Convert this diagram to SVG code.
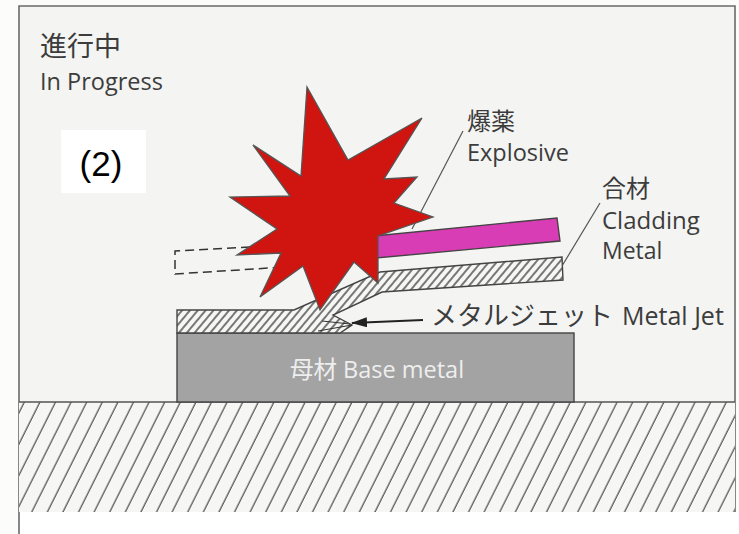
<svg xmlns="http://www.w3.org/2000/svg" width="739" height="534" viewBox="0 0 739 534">
  <defs>
    <style>
      .lbl { font-family: "Open Sans", "Noto Sans CJK JP", sans-serif; fill: #3c3c3c; }
      .outline { stroke: #444; stroke-width: 1.4; }
      .lead { stroke: #555; stroke-width: 1.2; fill: none; }
    </style>
    <!-- fine section hatching for the metal plates -->
    <pattern id="plateHatch" patternUnits="userSpaceOnUse" width="6" height="10" patternTransform="rotate(40)">
      <rect width="6" height="10" fill="#f6f6f4"/>
      <line x1="3" y1="0" x2="3" y2="10" stroke="#333" stroke-width="1.3"/>
    </pattern>
    <!-- coarse hatching for the ground -->
    <pattern id="groundHatch" patternUnits="userSpaceOnUse" width="15.6" height="10" patternTransform="skewX(-26.57)">
      <rect width="15.6" height="10" fill="#f6f6f4"/>
      <line x1="7" y1="0" x2="7" y2="10" stroke="#3a3a3a" stroke-width="1.2"/>
    </pattern>
    <marker id="arrowHead" viewBox="0 0 16 10" refX="15" refY="5" markerWidth="16" markerHeight="10" markerUnits="userSpaceOnUse" orient="auto">
      <path d="M0,0 L16,5 L0,10 Z" fill="#222"/>
    </marker>
  </defs>

  <!-- page -->
  <rect width="739" height="534" fill="#fcfcfb"/>
  <rect x="19" y="6" width="716" height="506" fill="#f4f4f2"/>
  <rect x="19" y="512" width="720" height="22" fill="#ffffff"/>
  <path d="M19,534 L19,6 L735,6 L735,512" fill="none" stroke="#6a6a6a" stroke-width="1.6"/>

  <!-- ground -->
  <g id="ground">
    <rect x="19" y="402" width="716" height="110" fill="url(#groundHatch)"/>
    <line x1="19" y1="402" x2="735" y2="402" stroke="#555" stroke-width="1.4"/>
  </g>

  <!-- base metal -->
  <g id="base-metal">
    <rect x="177" y="333" width="397" height="69" fill="#a3a3a3" class="outline"/>
    <text x="377" y="378" text-anchor="middle" class="lbl" style="fill:#eeeeee" font-size="23.5">母材 Base metal</text>
  </g>

  <!-- cladding metal: bonded part, bend, and flying part -->
  <g id="cladding-plate">
    <path d="M177,310 L294,310 L380,272 L562,257 L563,280 L382,292 L333,315 L352,325 L340,333 L177,333 Z" fill="url(#plateHatch)" class="outline"/>
    <path d="M318,331 L352,325 M322,321 L350,324" fill="none" stroke="#333" stroke-width="1"/>
  </g>

  <!-- original plate position -->
  <g id="initial-position" fill="none" stroke="#333" stroke-width="1.5" stroke-dasharray="9 5">
    <path d="M250,247 L175,251 L175,274 L285,267"/>
  </g>

  <!-- explosive layer -->
  <g id="explosive-layer">
    <path d="M374,236 L557,218 L560,241 L376,258 Z" fill="#d93db5" class="outline"/>
  </g>

  <!-- connectors -->
  <g id="connectors">
    <line class="lead" x1="463" y1="131" x2="412" y2="229"/>
    <line class="lead" x1="600" y1="203" x2="562" y2="266"/>
    <line x1="423" y1="320" x2="352" y2="323" stroke="#222" stroke-width="1.8" marker-end="url(#arrowHead)"/>
  </g>

  <!-- detonation burst -->
  <g id="burst">
    <polygon points="307,87 348,160 422,118 384,179 417,177 394,203 433,217 378,236 378,283 354,262 320,310 303,266 260,297 281,253 237,255 277,229 230,197 290,196 253,145 301,176" fill="#d01410" stroke="#555" stroke-width="1.3" stroke-linejoin="miter"/>
  </g>

  <!-- labels -->
  <g id="title">
    <text x="40" y="56" class="lbl" font-size="27">進行中</text>
    <text x="40" y="90" class="lbl" font-size="23.5">In Progress</text>
  </g>
  <g id="step-number">
    <rect x="61" y="130" width="85" height="63" fill="#ffffff"/>
    <text x="101" y="176" text-anchor="middle" font-family="'Liberation Sans', Arial, sans-serif" font-size="35" fill="#000">(2)</text>
  </g>
  <g id="label-explosive">
    <text x="467" y="130" class="lbl" font-size="24">爆薬</text>
    <text x="467" y="161" class="lbl" font-size="23.5">Explosive</text>
  </g>
  <g id="label-cladding">
    <text x="602" y="197" class="lbl" font-size="24">合材</text>
    <text x="602" y="229" class="lbl" font-size="24">Cladding</text>
    <text x="602" y="259" class="lbl" font-size="23">Metal</text>
  </g>
  <g id="label-jet">
    <text x="431" y="325" class="lbl" font-size="26">メタルジェット</text>
    <text x="622" y="325" class="lbl" font-size="25">Metal Jet</text>
  </g>
</svg>
